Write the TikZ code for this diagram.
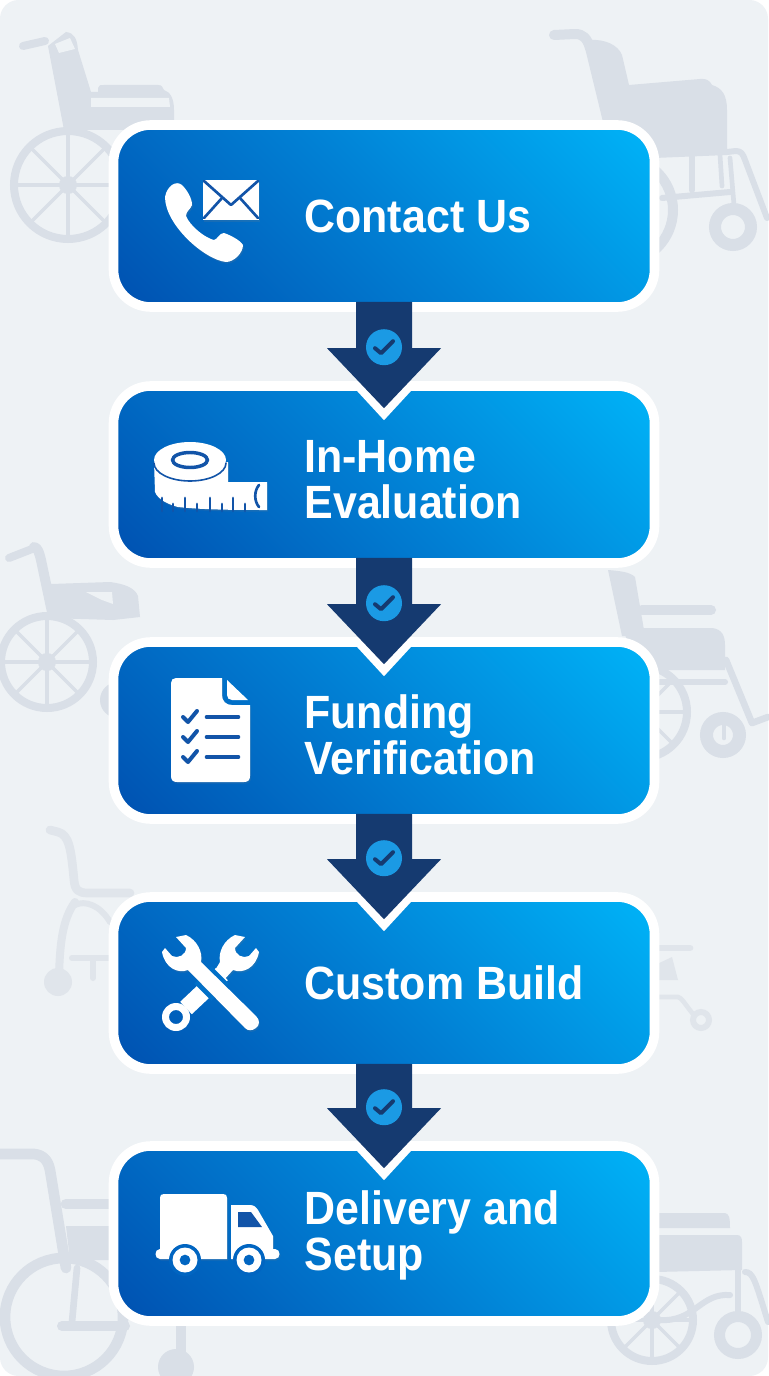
\documentclass[tikz,border=0pt]{standalone}
\usepackage{fontspec}
\setmainfont{Liberation Sans}[FakeStretch=0.92]
\usetikzlibrary{calc,shadows}

\definecolor{panelgrey}{HTML}{EEF2F5}
\definecolor{chairgrey}{HTML}{D9DFE7}
\definecolor{chairpale}{HTML}{E0E5EB}
\definecolor{stepdeep}{HTML}{0050B0}
\definecolor{stepmid}{HTML}{0180D4}
\definecolor{stepbright}{HTML}{00B4F8}
\definecolor{arrowdark}{HTML}{153A70}
\definecolor{checkblue}{HTML}{1B9AE4}
\definecolor{iconcut}{HTML}{1254A8}
\definecolor{iconback}{HTML}{0165C1}
\definecolor{iconcross}{HTML}{0170C8}

\pgfdeclarehorizontalshading{stepshade}{100bp}{color(0bp)=(stepdeep); color(14.6bp)=(stepdeep);
  color(50bp)=(stepmid); color(85.4bp)=(stepbright); color(100bp)=(stepbright)}

\tikzset{
  every picture/.style={line width=0.75pt},
  stepbox/.style={draw=white,line width=7.2pt,rounded corners=28pt,minimum width=405.75pt,
    inner sep=0pt,shade,shading=stepshade,shading angle=45},
  steplabel/.style={anchor=west,inner sep=0pt,text=white,align=left,font=\fontsize{35}{34.5}\selectfont\bfseries},
  checkdot/.style={circle,fill=checkblue,minimum size=27pt,inner sep=0pt},
  checkline/.style={draw=arrowdark,line width=3pt,line cap=round,line join=round},
  chairfill/.style={fill=chairgrey},
  chairline/.style={draw=chairgrey,line cap=round,line join=round},
  paleline/.style={draw=chairpale,line cap=round,line join=round},
  icon/.style={fill=white,drop shadow={opacity=0.18,shadow xshift=0.8pt,shadow yshift=-1.2pt}},
  iconplain/.style={fill=white},
  iconstroke/.style={draw=iconcut,line cap=round,line join=round},
}

\newcommand{\chairwheel}[4]{%
  \draw[draw=#4,line width=6pt] (#1,#2) circle [radius=#3-4];
  \foreach \a in {0,45,...,315}
    \draw[draw=#4,line width=2.5pt] (#1,#2) -- ++(\a:#3-3);
  \fill[#4] (#1,#2) circle [radius=9];
}
\newcommand{\chaircaster}[5]{%
  \draw[draw=#5,line width=0.75*(#3-#4)] (#1,#2) circle [radius=(#3+#4)/2];
}
\newcommand{\steparrow}[3]{%
  \coordinate (#3tip) at ($(#2.north)+(0,27)$);
  \fill[white] ($(#2.north)+(-36,0)$) -- ($(#3tip)+(0,12)$) -- ($(#2.north)+(36,0)$) -- cycle;
  \fill[arrowdark] ($(#1.south)+(-28,-10)$) -- ($(#3tip)+(-28,-60)$) -- ($(#3tip)+(-57,-60)$) -- (#3tip)
    -- ($(#3tip)+(57,-60)$) -- ($(#3tip)+(28,-60)$) -- ($(#1.south)+(28,-10)$) -- cycle;
  \node[checkdot] (#3dot) at ($(#3tip)+(0,-61)$) {};
  \draw[checkline] ($(#3dot)+(-9,1)$) -- ($(#3dot)+(-3,6)$) -- ($(#3dot)+(9,-6)$);
}

\begin{document}
\begin{tikzpicture}[x=0.75pt,y=0.75pt,yscale=-1,xscale=1]
\useasboundingbox (0,0) rectangle (768,1376);

\fill[white] (0,0) rectangle (768,1376);
\fill[panelgrey,rounded corners=14pt] (0,0) rectangle (768,1376);

% top left chair
\fill[chairfill] (48,46) -- (66,32) .. controls (74,33) and (77,38) .. (78,50) -- (91,92) -- (98,92) -- (98,88)
  .. controls (99,85) and (100,85) .. (104,85) -- (158,85) .. controls (163,85) and (162,88) .. (164,90)
  .. controls (170,92) and (174,98) .. (174,110) -- (174,130) -- (64,130) -- cycle;
\draw[chairline,line width=6pt] (23,46) -- (45,41);
\fill[panelgrey] (55,44) -- (70,38) -- (75,49) -- (59,53) -- cycle;
\fill[panelgrey] (91,98) -- (169,98) -- (170,107) -- (91,107) -- cycle;
\chairwheel{68}{185}{58}{chairgrey}

% top right chair
\draw[chairline,line width=7.5pt] (554,35) -- (575,34) .. controls (583,34) and (587,38) .. (590,48);
\fill[chairfill] (585,48) -- (603,122) -- (606,160) -- (727,155) -- (727,110) .. controls (727,95) and (722,88) .. (712,85)
  .. controls (708,78) and (704,79) .. (700,79) -- (629,85) -- (622,55) .. controls (618,45) and (605,39) .. (590,40) -- cycle;
\draw[chairline,line width=5pt] (692,155) -- (692,190);
\draw[chairline,line width=3.5pt] (720,155) -- (722,186);
\draw[chairline,line width=4.5pt] (662,198) -- (730,192);
\draw[chairline,line width=4.5pt] (727,152) -- (736,151) .. controls (741,151) and (743,154) .. (745,160) -- (767,218);
\draw[chairline,line width=3.5pt] (730,158) -- (734,205);
\draw[chairline,line width=7.5pt] (620,210) circle [radius=53];
\chaircaster{733}{227}{24}{12}{chairgrey}

% left chair, second row
\draw[chairline,line width=6pt] (9,558) -- (32,549);
\draw[chairline,line width=7.5pt] (34,547) .. controls (38,548) and (39,552) .. (41,560) -- (52,612);
\fill[chairfill] (51,584) -- (110,582) .. controls (125,584) and (135,588) .. (138,596) -- (140,617) -- (113,620) -- (49,618) -- cycle;
\fill[panelgrey] (86,592) -- (112,592) -- (113,604) -- (102,600) -- cycle;
\chairwheel{47}{662}{50}{chairgrey}
\fill[chairfill] (118,700) circle [radius=18];

% right chair, second row
\fill[chairfill] (608,570) -- (622,636) -- (645,636) -- (635,577) .. controls (630,572) and (620,571) .. (608,570) -- cycle;
\draw[chairline,line width=7.5pt] (642,610) -- (711,610);
\fill[chairfill] (622,628) -- (712,628) .. controls (722,629) and (725,636) .. (725,645) -- (725,670) -- (640,670) -- cycle;
\draw[chairline,line width=4.5pt] (660,682) -- (725,682);
\draw[chairline,line width=5pt] (726,660) -- (752,723) -- (768,717);
\chairwheel{641}{712}{50}{chairgrey}
\chaircaster{723}{735}{23}{10}{chairgrey}
\draw[chairline,line width=3.5pt] (724,715) -- (724,738);

% left chair, third row
\draw[paleline,line width=6.5pt] (50,830) -- (58,832) .. controls (69,835) and (71,848) .. (74,880) .. controls (75,890) and (78,893) .. (88,893) -- (130,893);
\draw[paleline,line width=6pt] (75,902) .. controls (62,920) and (60,945) .. (59,975);
\draw[paleline,line width=4.5pt] (75,905) .. controls (85,900) and (100,905) .. (110,922);
\draw[paleline,line width=4.5pt] (72,958) -- (112,958);
\draw[paleline,line width=4.5pt] (93,960) -- (93,978);
\fill[chairpale] (58,982) circle [radius=14];

% right chair, third row
\draw[paleline,line width=5pt] (655,948) -- (690,948);
\fill[chairpale] (655,965) -- (672,957) -- (678,980) -- (655,980) -- cycle;
\draw[paleline,line width=3.5pt] (655,997) -- (678,997) .. controls (682,998) and (684,1003) .. (693,1014);
\chaircaster{701}{1020}{11}{5}{chairpale}

% bottom left chair
\draw[chairline,line width=8pt] (-6,1154) -- (34,1154) .. controls (43,1155) and (48,1160) .. (50,1170) -- (66,1268);
\draw[chairline,line width=8pt] (66,1204) -- (112,1204);
\fill[chairfill] (66,1226) -- (112,1226) -- (112,1260) -- (70,1260) -- cycle;
\draw[chairline,line width=8pt] (64,1317) circle [radius=59];
\draw[chairline,line width=5pt] (77,1268) -- (72,1322);
\draw[chairline,line width=7.5pt] (62,1326) -- (125,1326);
\draw[chairline,line width=7.5pt] (181,1322) -- (181,1353);
\fill[chairfill] (176,1367) circle [radius=18];

% bottom right chair
\fill[chairfill] (655,1213) -- (725,1213) .. controls (729,1214) and (730,1217) .. (730,1228) -- (655,1228) -- cycle;
\fill[chairfill] (655,1235) -- (737,1235) .. controls (741,1235) and (742,1238) .. (742,1242) -- (742,1270) -- (655,1272) -- cycle;
\draw[chairline,line width=5pt] (738,1268) -- (738,1313);
\draw[chairline,line width=4.5pt] (745,1272) .. controls (753,1272) and (755,1280) .. (768,1322);
\draw[chairline,line width=4.5pt] (660,1320) .. controls (695,1322) and (700,1293) .. (730,1295);
\chairwheel{652}{1320}{45}{chairgrey}
\chaircaster{738}{1335}{24}{13}{chairgrey}

% steps
\node [stepbox,minimum height=136.5pt] (contact) at (384,216) {};
\node [stepbox,minimum height=132.75pt] (evaluation) at (384,474.5) {};
\node [stepbox,minimum height=132.75pt] (funding) at (384,730.5) {};
\node [stepbox,minimum height=129pt] (build) at (384,983) {};
\node [stepbox,minimum height=131.25pt] (delivery) at (384,1233.5) {};

\steparrow{contact}{evaluation}{first}
\steparrow{evaluation}{funding}{second}
\steparrow{funding}{build}{third}
\steparrow{build}{delivery}{fourth}

\node [steplabel] (contactlabel) at (304,216) {Contact Us};
\node [steplabel] (evaluationlabel) at (304,480) {In-Home\\Evaluation};
\node [steplabel] (fundinglabel) at (304,735) {Funding\\Verification};
\node [steplabel] (buildlabel) at (304,983) {Custom Build};
\node [steplabel] (deliverylabel) at (304,1235) {Delivery and\\Setup};

% phone and envelope
\fill[icon] (165,197) .. controls (167,186) and (176,180) .. (182,185) .. controls (187,190) and (192,198) .. (192,205)
  .. controls (191,209) and (186,211) .. (186,216) .. controls (190,226) and (205,238) .. (214,240)
  .. controls (218,239) and (219,233) .. (224,233) .. controls (230,235) and (240,240) .. (243,245)
  .. controls (243,253) and (234,262) .. (226,262) .. controls (205,260) and (165,225) .. (165,197) -- cycle;
\fill[icon] (203,180) rectangle (259,220);
\draw[iconstroke,line width=2pt] (204,181) -- (231,205) -- (258,181);
\draw[iconstroke,line width=2pt] (204,218) -- (222,198);
\draw[iconstroke,line width=2pt] (258,218) -- (240,198);

% measuring tape
\fill[icon] (154,462) -- (155,492) .. controls (158,500) and (170,505) .. (178,507) .. controls (205,510) and (240,510) .. (267,510)
  -- (267,482) -- (228,482) -- (228,462) -- cycle;
\fill[iconplain] (190,460) ellipse [x radius=36,y radius=18];
\draw[iconstroke,line width=1.2pt] (226,463) arc [start angle=0,end angle=180,x radius=36,y radius=18];
\draw[iconstroke,line width=2.6pt] (190,460) ellipse [x radius=17.5,y radius=7.5];
\foreach \x/\h in {162/13,173/7,185/13,197/7,210/13,222/7,233/13,245/7}
  \draw[iconstroke,line width=2.2pt] (\x,511) -- (\x,511-\h);
\draw[iconstroke,line width=2pt] (259,485) .. controls (254,491) and (254,501) .. (259,507);

% checklist
\fill[icon] (176,678) -- (222,678) -- (222,695) .. controls (222,701) and (226,705) .. (232,705) -- (250,705) -- (250,776)
  .. controls (250,780) and (248,782) .. (244,782) -- (177,782) .. controls (173,782) and (171,780) .. (171,776) -- (171,683)
  .. controls (171,680) and (173,678) .. (176,678) -- cycle;
\fill[iconplain] (227,680) -- (248,700) -- (232,700) .. controls (229,700) and (227,698) .. (227,695) -- cycle;
\foreach \y in {717,737,757}{
  \draw[iconstroke,line width=3pt] (183,\y) -- (188,\y+5) -- (197,\y-6);
  \draw[iconstroke,line width=3.5pt] (207,\y) -- (238,\y);
}

% crossed wrenches
\fill[icon] (245,937) -- (235,935) .. controls (224,940) and (218,952) .. (220,962) -- (214,972) -- (223,981) -- (233,970)
  .. controls (243,974) and (256,968) .. (259,952) -- (256,948) -- (249,956) .. controls (243,959) and (235,955) .. (235,948) -- cycle;
\draw[draw=white,line width=12.75pt] (222,974) -- (186,1008);
\fill[iconplain,even odd rule] (176,1017) circle [radius=14] (176,1017) circle [radius=7];
\draw[draw=iconcross,line width=18.5pt] (203,975) -- (220,992);
\fill[icon] (176,937) -- (186,935) .. controls (197,940) and (203,952) .. (201,962) -- (256,1016)
  .. controls (260,1020) and (260,1025) .. (256,1028) .. controls (252,1031) and (248,1031) .. (245,1028) -- (188,970)
  .. controls (178,974) and (165,968) .. (162,952) -- (165,948) -- (172,956) .. controls (178,959) and (186,955) .. (186,948) -- cycle;

% truck
\fill[icon] (164,1194) -- (223,1194) .. controls (226,1194) and (227,1195) .. (227,1198) -- (227,1259) -- (160,1259)
  .. controls (154,1259) and (154,1249) .. (160,1249) -- (160,1198) .. controls (160,1195) and (161,1194) .. (164,1194) -- cycle;
\fill[icon] (231,1205) -- (250,1205) .. controls (254,1205) and (256,1207) .. (258,1210) -- (273,1236) -- (273,1249)
  -- (275,1249) .. controls (281,1249) and (281,1259) .. (275,1259) -- (231,1259) -- cycle;
\fill[iconcut] (238,1212) -- (251,1212) -- (262,1227) -- (238,1227) -- cycle;
\foreach \x in {185,249}{
  \fill[iconback] (\x,1260) circle [radius=16];
  \fill[iconplain,even odd rule] (\x,1260) circle [radius=12.5] (\x,1260) circle [radius=5.5];
}
\end{tikzpicture}
\end{document}
